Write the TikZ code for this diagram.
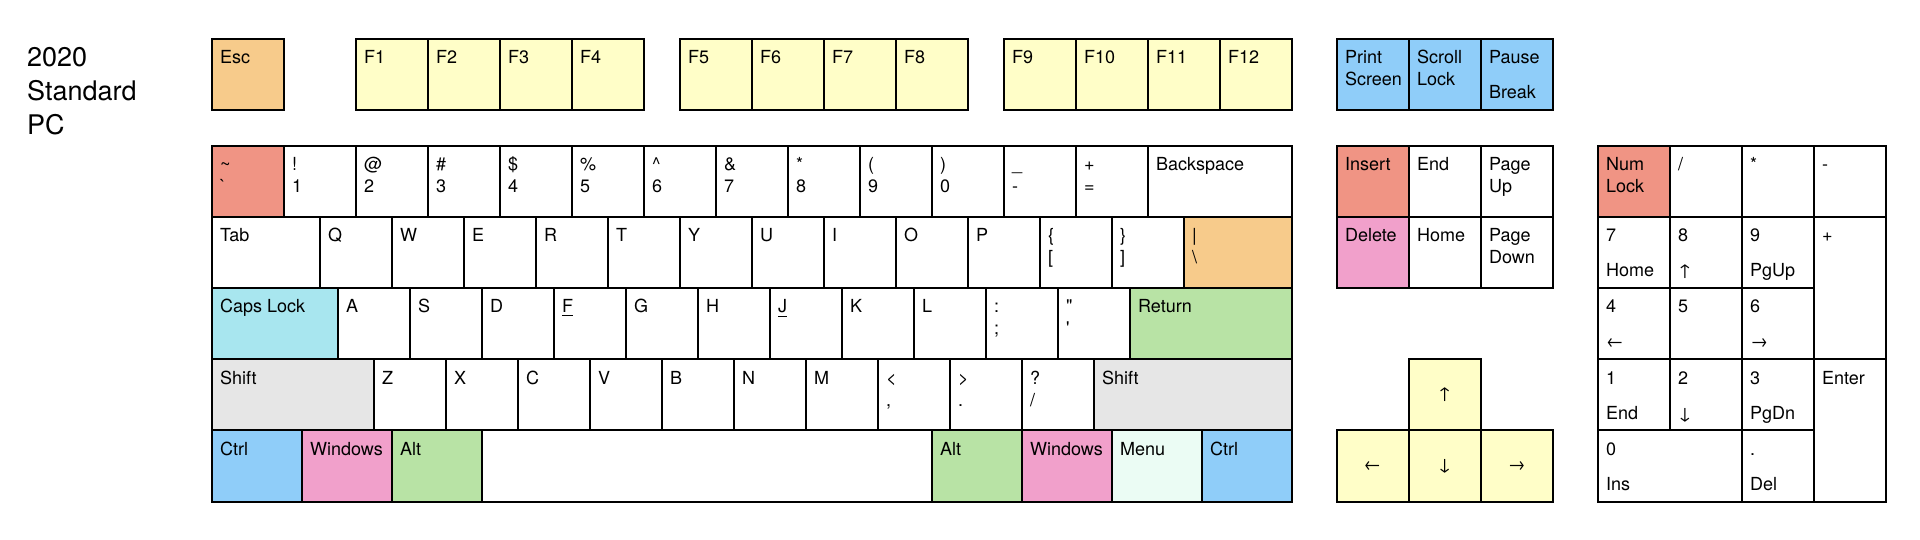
\documentclass[tikz,border=0pt]{standalone}
\usepackage{fontspec}
\setmainfont{TeX Gyre Heros}
\definecolor{korange}{HTML}{F7CB8B}
\definecolor{kyellow}{HTML}{FFFEC8}
\definecolor{kblue}{HTML}{8FCDF9}
\definecolor{ksalmon}{HTML}{F09484}
\definecolor{kpink}{HTML}{F1A0CB}
\definecolor{kgreen}{HTML}{B8E3A5}
\definecolor{kcyan}{HTML}{A8E6EF}
\definecolor{kgray}{HTML}{E6E6E6}
\definecolor{kmint}{HTML}{EBFCF4}
\tikzset{
  kbox/.style={draw=black, line width=1pt, rectangle, inner sep=0pt, outer sep=0pt, anchor=north west},
  lbl/.style={anchor=base west, inner sep=0pt, font=\fontsize{9}{10}\selectfont},
  clbl/.style={anchor=center, inner sep=0pt, font=\fontsize{9}{10}\selectfont},
  ttl/.style={anchor=base west, inner sep=0pt, font=\fontsize{13.5}{16}\selectfont},
}
\newcommand\keybox[6]{\node[kbox, fill=#6, minimum width=#4*36pt, minimum height=#5*35.6pt] (#1) at (#2,#3) {};}
\newcommand\kone[7]{\keybox{#1}{#2}{#3}{#4}{#5}{#6}\node[lbl] (#1-t) at ([shift={(4pt,-12.5pt)}]#1.north west) {#7};}
\newcommand\ktwo[8]{\keybox{#1}{#2}{#3}{#4}{#5}{#6}\node[lbl] (#1-t) at ([shift={(4pt,-12.5pt)}]#1.north west) {#7};\node[lbl] (#1-b) at ([shift={(4pt,-23.5pt)}]#1.north west) {#8};}
\newcommand\kgap[8]{\keybox{#1}{#2}{#3}{#4}{#5}{#6}\node[lbl] (#1-t) at ([shift={(4pt,-12.5pt)}]#1.north west) {#7};\node[lbl] (#1-b) at ([shift={(4pt,-30pt)}]#1.north west) {#8};}
\newcommand\kcen[7]{\keybox{#1}{#2}{#3}{#4}{#5}{#6}\node[clbl] (#1-t) at (#1.center) {#7};}
\begin{document}
\begin{tikzpicture}
\useasboundingbox (0,0) rectangle (960pt,-270pt);
\node[ttl] (title1) at (13.4pt,-33.35pt) {2020};
\node[ttl] (title2) at (13.4pt,-50.2pt) {Standard};
\node[ttl] (title3) at (13.4pt,-67.05pt) {PC};
\begin{scope}[shift={(105.85pt,-19.35pt)}, x=36pt, y=-35.6pt]
% function row
\kone{esc}{0}{0}{1}{1}{korange}{Esc}
\kone{f1}{2}{0}{1}{1}{kyellow}{F1}
\kone{f2}{3}{0}{1}{1}{kyellow}{F2}
\kone{f3}{4}{0}{1}{1}{kyellow}{F3}
\kone{f4}{5}{0}{1}{1}{kyellow}{F4}
\kone{f5}{6.5}{0}{1}{1}{kyellow}{F5}
\kone{f6}{7.5}{0}{1}{1}{kyellow}{F6}
\kone{f7}{8.5}{0}{1}{1}{kyellow}{F7}
\kone{f8}{9.5}{0}{1}{1}{kyellow}{F8}
\kone{f9}{11}{0}{1}{1}{kyellow}{F9}
\kone{f10}{12}{0}{1}{1}{kyellow}{F10}
\kone{f11}{13}{0}{1}{1}{kyellow}{F11}
\kone{f12}{14}{0}{1}{1}{kyellow}{F12}
\ktwo{prt}{15.625}{0}{1}{1}{kblue}{Print}{Screen}
\ktwo{scr}{16.625}{0}{1}{1}{kblue}{Scroll}{Lock}
\kgap{pau}{17.625}{0}{1}{1}{kblue}{Pause}{Break}
% number row
\ktwo{tilde}{0}{1.5}{1}{1}{ksalmon}{\textasciitilde}{\textasciigrave}
\ktwo{n1}{1}{1.5}{1}{1}{white}{!}{1}
\ktwo{n2}{2}{1.5}{1}{1}{white}{@}{2}
\ktwo{n3}{3}{1.5}{1}{1}{white}{\#}{3}
\ktwo{n4}{4}{1.5}{1}{1}{white}{\$}{4}
\ktwo{n5}{5}{1.5}{1}{1}{white}{\%}{5}
\ktwo{n6}{6}{1.5}{1}{1}{white}{\textasciicircum}{6}
\ktwo{n7}{7}{1.5}{1}{1}{white}{\&}{7}
\ktwo{n8}{8}{1.5}{1}{1}{white}{*}{8}
\ktwo{n9}{9}{1.5}{1}{1}{white}{(}{9}
\ktwo{n0}{10}{1.5}{1}{1}{white}{)}{0}
\ktwo{minus}{11}{1.5}{1}{1}{white}{\_}{-}
\ktwo{equal}{12}{1.5}{1}{1}{white}{+}{=}
\kone{bksp}{13}{1.5}{2}{1}{white}{Backspace}
\kone{ins}{15.625}{1.5}{1}{1}{ksalmon}{Insert}
\kone{end}{16.625}{1.5}{1}{1}{white}{End}
\ktwo{pgup}{17.625}{1.5}{1}{1}{white}{Page}{Up}
\ktwo{numlk}{19.25}{1.5}{1}{1}{ksalmon}{Num}{Lock}
\kone{kpdiv}{20.25}{1.5}{1}{1}{white}{/}
\kone{kpmul}{21.25}{1.5}{1}{1}{white}{*}
\kone{kpsub}{22.25}{1.5}{1}{1}{white}{-}
% tab row
\kone{tab}{0}{2.5}{1.5}{1}{white}{Tab}
\kone{q}{1.5}{2.5}{1}{1}{white}{Q}
\kone{w}{2.5}{2.5}{1}{1}{white}{W}
\kone{e}{3.5}{2.5}{1}{1}{white}{E}
\kone{r}{4.5}{2.5}{1}{1}{white}{R}
\kone{t}{5.5}{2.5}{1}{1}{white}{T}
\kone{y}{6.5}{2.5}{1}{1}{white}{Y}
\kone{u}{7.5}{2.5}{1}{1}{white}{U}
\kone{i}{8.5}{2.5}{1}{1}{white}{I}
\kone{o}{9.5}{2.5}{1}{1}{white}{O}
\kone{p}{10.5}{2.5}{1}{1}{white}{P}
\ktwo{lbr}{11.5}{2.5}{1}{1}{white}{\{}{[}
\ktwo{rbr}{12.5}{2.5}{1}{1}{white}{\}}{]}
\ktwo{bsl}{13.5}{2.5}{1.5}{1}{korange}{\textbar}{\textbackslash}
\kone{del}{15.625}{2.5}{1}{1}{kpink}{Delete}
\kone{home}{16.625}{2.5}{1}{1}{white}{Home}
\ktwo{pgdn}{17.625}{2.5}{1}{1}{white}{Page}{Down}
\kgap{kp7}{19.25}{2.5}{1}{1}{white}{7}{Home}
\kgap{kp8}{20.25}{2.5}{1}{1}{white}{8}{↑}
\kgap{kp9}{21.25}{2.5}{1}{1}{white}{9}{PgUp}
\kone{kpadd}{22.25}{2.5}{1}{2}{white}{+}
% caps row
\kone{caps}{0}{3.5}{1.75}{1}{kcyan}{Caps Lock}
\kone{a}{1.75}{3.5}{1}{1}{white}{A}
\kone{s}{2.75}{3.5}{1}{1}{white}{S}
\kone{d}{3.75}{3.5}{1}{1}{white}{D}
\kone{f}{4.75}{3.5}{1}{1}{white}{\underline{F}}
\kone{g}{5.75}{3.5}{1}{1}{white}{G}
\kone{h}{6.75}{3.5}{1}{1}{white}{H}
\kone{j}{7.75}{3.5}{1}{1}{white}{\underline{J}}
\kone{k}{8.75}{3.5}{1}{1}{white}{K}
\kone{l}{9.75}{3.5}{1}{1}{white}{L}
\ktwo{semi}{10.75}{3.5}{1}{1}{white}{:}{;}
\ktwo{quote}{11.75}{3.5}{1}{1}{white}{\textquotedbl}{\textquotesingle}
\kone{ret}{12.75}{3.5}{2.25}{1}{kgreen}{Return}
\kgap{kp4}{19.25}{3.5}{1}{1}{white}{4}{←}
\kone{kp5}{20.25}{3.5}{1}{1}{white}{5}
\kgap{kp6}{21.25}{3.5}{1}{1}{white}{6}{→}
% shift row
\kone{lsh}{0}{4.5}{2.25}{1}{kgray}{Shift}
\kone{z}{2.25}{4.5}{1}{1}{white}{Z}
\kone{x}{3.25}{4.5}{1}{1}{white}{X}
\kone{c}{4.25}{4.5}{1}{1}{white}{C}
\kone{v}{5.25}{4.5}{1}{1}{white}{V}
\kone{b}{6.25}{4.5}{1}{1}{white}{B}
\kone{n}{7.25}{4.5}{1}{1}{white}{N}
\kone{m}{8.25}{4.5}{1}{1}{white}{M}
\ktwo{comma}{9.25}{4.5}{1}{1}{white}{<}{,}
\ktwo{period}{10.25}{4.5}{1}{1}{white}{>}{.}
\ktwo{slash}{11.25}{4.5}{1}{1}{white}{?}{/}
\kone{rsh}{12.25}{4.5}{2.75}{1}{kgray}{Shift}
\kcen{up}{16.625}{4.5}{1}{1}{kyellow}{↑}
\kgap{kp1}{19.25}{4.5}{1}{1}{white}{1}{End}
\kgap{kp2}{20.25}{4.5}{1}{1}{white}{2}{↓}
\kgap{kp3}{21.25}{4.5}{1}{1}{white}{3}{PgDn}
\kone{kpent}{22.25}{4.5}{1}{2}{white}{Enter}
% bottom row
\kone{lctrl}{0}{5.5}{1.25}{1}{kblue}{Ctrl}
\kone{lwin}{1.25}{5.5}{1.25}{1}{kpink}{Windows}
\kone{lalt}{2.5}{5.5}{1.25}{1}{kgreen}{Alt}
\keybox{space}{3.75}{5.5}{6.25}{1}{white}
\kone{ralt}{10}{5.5}{1.25}{1}{kgreen}{Alt}
\kone{rwin}{11.25}{5.5}{1.25}{1}{kpink}{Windows}
\kone{menu}{12.5}{5.5}{1.25}{1}{kmint}{Menu}
\kone{rctrl}{13.75}{5.5}{1.25}{1}{kblue}{Ctrl}
\kcen{left}{15.625}{5.5}{1}{1}{kyellow}{←}
\kcen{down}{16.625}{5.5}{1}{1}{kyellow}{↓}
\kcen{right}{17.625}{5.5}{1}{1}{kyellow}{→}
\kgap{kp0}{19.25}{5.5}{2}{1}{white}{0}{Ins}
\kgap{kpdot}{21.25}{5.5}{1}{1}{white}{.}{Del}
\end{scope}
\end{tikzpicture}
\end{document}
